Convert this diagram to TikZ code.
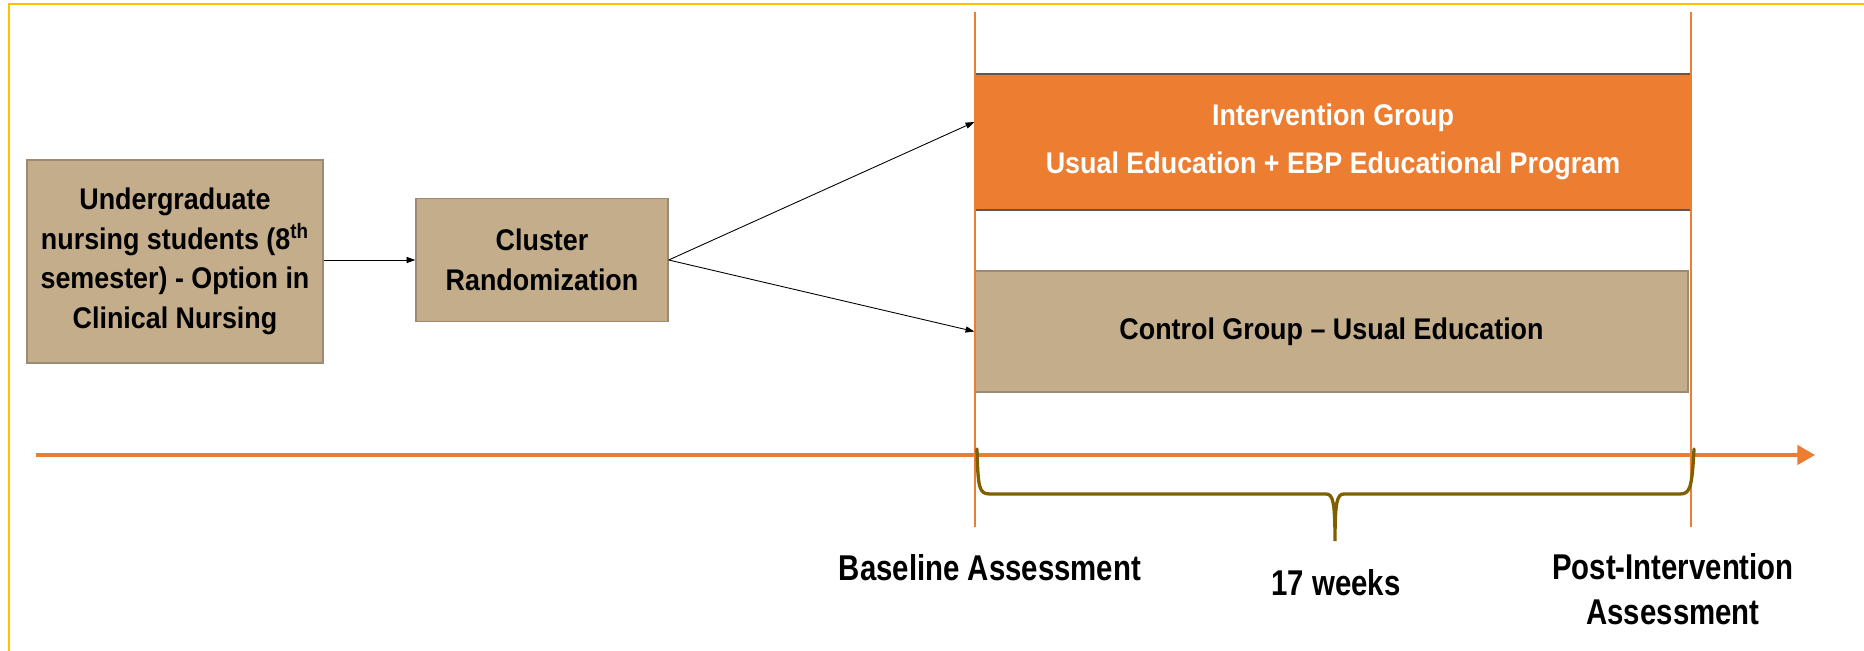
\documentclass[tikz,border=0pt]{standalone}
\usepackage{fontspec}
\setmainfont{Liberation Sans}[FakeStretch=0.9]
\newfontfamily\narrowfont{Liberation Sans}[FakeStretch=0.82]
\usepackage{tikz}
\usetikzlibrary{arrows.meta}

\definecolor{studyorange}{HTML}{ED7D31}
\definecolor{tanfill}{HTML}{C4AD8B}
\definecolor{tanline}{HTML}{9C8B72}
\definecolor{intline}{HTML}{6B5344}
\definecolor{braceolive}{HTML}{7F6000}
\definecolor{framegold}{HTML}{FFC000}

\newcommand{\boxfont}{\bfseries\fontsize{17}{22.5}\selectfont}
\newcommand{\axisfont}{\narrowfont\bfseries\fontsize{20.4}{25.6}\selectfont}

\tikzset{
  tanbox/.style={draw=tanline, fill=tanfill, line width=0.8pt, align=center,
    font=\boxfont, inner sep=0pt},
  flow/.style={-{Triangle[length=5pt,width=3.5pt]}, line width=0.5pt},
  timetext/.style={font=\axisfont, align=center, inner sep=0pt}
}

\begin{document}
\begin{tikzpicture}[x=0.02cm, y=-0.02cm]
\useasboundingbox (0,0) rectangle (1864,651);
% Frame
\draw[framegold, line width=0.035cm] (9,651) -- (9,4) -- (1864,4);

% Boxes
\node[tanbox, minimum width=5.92cm, minimum height=4.06cm] (students) at (175,261.5)
  {Undergraduate\\nursing students (8\textsuperscript{th}\\semester) - Option in\\Clinical Nursing};
\node[tanbox, minimum width=5.04cm, minimum height=2.46cm] (random) at (542,260)
  {Cluster\\Randomization};
\node[draw=intline, fill=studyorange, line width=0.8pt, text=white, align=center,
  font=\bfseries\fontsize{17}{27}\selectfont, inner sep=0pt,
  minimum width=14.32cm, minimum height=2.72cm] (interv) at (1333,142)
  {Intervention Group\\Usual Education + EBP Educational Program};
\node[tanbox, minimum width=14.26cm, minimum height=2.42cm] (control) at (1331.5,331.5)
  {Control Group -- Usual Education};

% Arrows
\draw[flow] (random.west -| students.east) -- (random.west);
\draw[flow] (random.east) -- ([yshift=0.4cm]interv.west);
\draw[flow] (random.east) -- (control.west);

% Assessment lines
\foreach \x in {975,1691}
  \draw[studyorange, line width=0.055cm] (\x,12) -- (\x,527);

% Time axis
\coordinate (tstart) at (36,455);
\coordinate (tend) at (1815,455);
\draw[studyorange, line width=0.066cm, -{Triangle[length=10pt,width=11pt]}] (tstart) -- (tend);

% Brace
\draw[braceolive, line width=0.066cm, line cap=round]
  (977,449) .. controls (978,488) and (979,494) .. (990,494) -- (1326,494)
  .. controls (1333,494) and (1335,502) .. (1335,541)
  .. controls (1335,502) and (1337,494) .. (1344,494) -- (1680,494)
  .. controls (1690,494) and (1692,488) .. (1694,449);

% Labels
\node[timetext] (baseline) at (990,568) {Baseline Assessment};
\node[timetext] (weeks) at (1336,583) {17 weeks};
\node[timetext] (post) at (1673,589) {Post-Intervention\\Assessment};
\end{tikzpicture}
\end{document}
